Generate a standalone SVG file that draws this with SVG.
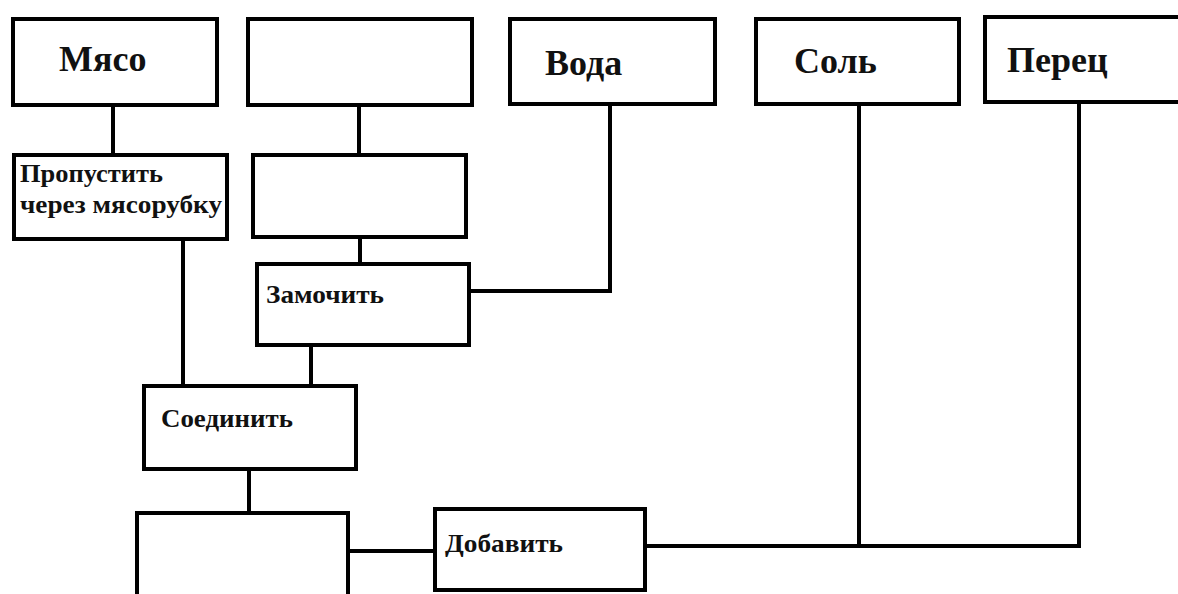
<svg xmlns="http://www.w3.org/2000/svg" width="1178" height="594" viewBox="0 0 1178 594">
  <style>
    .box { fill: #fff; stroke: #000; stroke-width: 4; }
    .conn { fill: none; stroke: #000; stroke-width: 4; }
    .big { font-family: "Liberation Serif", "DejaVu Serif", serif; font-weight: bold; font-size: 36px; fill: #111; }
    .small { font-family: "Liberation Serif", "DejaVu Serif", serif; font-weight: bold; font-size: 26px; fill: #111; }
    .tiny { font-family: "Liberation Serif", "DejaVu Serif", serif; font-weight: bold; font-size: 25px; fill: #111; }
  </style>
  <rect x="0" y="0" width="1178" height="594" fill="#fff"/>
  <g id="connectors">
    <line class="conn" x1="113" y1="105" x2="113" y2="155"/>
    <line class="conn" x1="359" y1="105" x2="359" y2="155"/>
    <line class="conn" x1="360" y1="237" x2="360" y2="264"/>
    <polyline class="conn" points="610,104 610,291 469,291"/>
    <line class="conn" x1="183" y1="239" x2="183" y2="386"/>
    <line class="conn" x1="311" y1="345" x2="311" y2="386"/>
    <line class="conn" x1="249" y1="469" x2="249" y2="513"/>
    <line class="conn" x1="348" y1="551" x2="435" y2="551"/>
    <polyline class="conn" points="645,546 1079,546 1079,102"/>
    <line class="conn" x1="859" y1="104" x2="859" y2="546"/>
  </g>
  <g id="n-myaso">
    <rect class="box" x="13" y="19" width="204" height="86"/>
    <text class="big" x="59" y="71">Мясо</text>
  </g>
  <g id="n-empty1">
    <rect class="box" x="248" y="19" width="224" height="86"/>
  </g>
  <g id="n-voda">
    <rect class="box" x="510" y="19" width="205" height="85"/>
    <text class="big" x="545" y="75">Вода</text>
  </g>
  <g id="n-sol">
    <rect class="box" x="756" y="19" width="203" height="85"/>
    <text class="big" x="794" y="73">Соль</text>
  </g>
  <g id="n-perets">
    <rect class="box" x="985" y="17" width="210" height="85"/>
    <text class="big" x="1007" y="72">Перец</text>
  </g>
  <g id="n-propustit">
    <rect class="box" x="14" y="155" width="213" height="84"/>
    <text class="tiny" x="20" y="182" textLength="143" lengthAdjust="spacingAndGlyphs">Пропустить</text>
    <text class="tiny" x="20" y="213" textLength="202" lengthAdjust="spacingAndGlyphs">через мясорубку</text>
  </g>
  <g id="n-empty2">
    <rect class="box" x="253" y="155" width="213" height="82"/>
  </g>
  <g id="n-zamochit">
    <rect class="box" x="257" y="264" width="212" height="81"/>
    <text class="small" x="266" y="303" textLength="118" lengthAdjust="spacingAndGlyphs">Замочить</text>
  </g>
  <g id="n-soedinit">
    <rect class="box" x="144" y="386" width="212" height="83"/>
    <text class="small" x="161" y="427" textLength="132" lengthAdjust="spacingAndGlyphs">Соединить</text>
  </g>
  <g id="n-empty3">
    <rect class="box" x="137" y="513" width="211" height="100"/>
  </g>
  <g id="n-dobavit">
    <rect class="box" x="435" y="509" width="210" height="81"/>
    <text class="small" x="445" y="552" textLength="118" lengthAdjust="spacingAndGlyphs">Добавить</text>
  </g>
</svg>
